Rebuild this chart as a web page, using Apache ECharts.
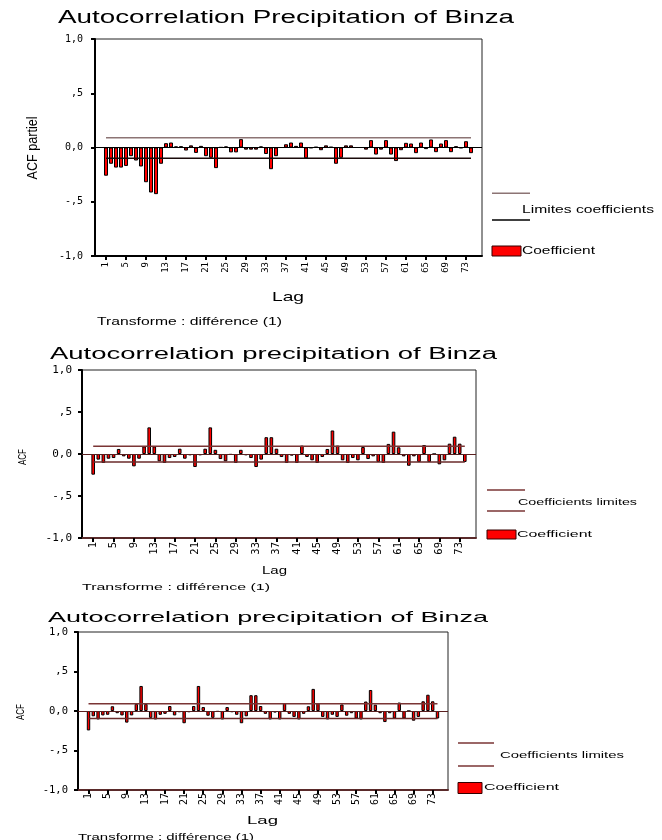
<!DOCTYPE html>
<html><head><meta charset="utf-8">
<script src="https://cdn.jsdelivr.net/npm/echarts@6/dist/echarts.min.js"></script>
<style>html,body{margin:0;padding:0;background:#fff}#c{width:662px;height:840px}</style>
</head><body><div id="c"></div>
<script>
// ---------- data ----------
const lags = [1,2,3,4,5,6,7,8,9,10,11,12,13,14,15,16,17,18,19,20,21,22,23,24,25,26,27,28,29,30,31,32,33,34,35,36,37,38,39,40,41,42,43,44,45,46,47,48,49,50,51,52,53,54,55,56,57,58,59,60,61,62,63,64,65,66,67,68,69,70,71,72,73,74];
const lagTickLabels = [1,5,9,13,17,21,25,29,33,37,41,45,49,53,57,61,65,69,73];
const yTickValues = [-1,-0.5,0,0.5,1];
const yTickLabels = ['-1,0','-,5','0,0',',5','1,0'];

const pacfValues = [-0.26,-0.15,-0.185,-0.185,-0.17,-0.08,-0.12,-0.175,-0.32,-0.415,-0.43,-0.15,
  0.04,0.046,0.01,0.012,-0.028,0.02,-0.05,0.015,-0.08,-0.095,-0.19,0.002,0.01,-0.045,-0.045,0.077,
  -0.02,-0.02,-0.02,0.01,-0.06,-0.2,-0.08,0.0,0.03,0.046,0.015,0.046,-0.1,-0.005,0.005,-0.025,0.02,
  0.005,-0.15,-0.095,0.02,0.02,0.0,0.0,-0.02,0.068,-0.065,-0.02,0.068,-0.065,-0.125,-0.025,0.043,
  0.037,-0.052,0.046,-0.015,0.074,-0.043,0.037,0.068,-0.043,0.012,-0.006,0.058,-0.052];
const acfValues = [-0.246,-0.067,-0.107,-0.056,-0.048,0.06,-0.028,-0.056,-0.147,-0.056,0.09,0.317,
  0.09,-0.087,-0.107,-0.048,-0.036,0.063,-0.056,-0.016,-0.155,-0.016,0.063,0.317,0.05,-0.06,-0.087,
  -0.01,-0.107,0.05,-0.016,-0.048,-0.155,-0.067,0.2,0.2,0.063,-0.036,-0.107,-0.02,-0.107,0.1,-0.036,
  -0.075,-0.107,-0.036,0.06,0.28,0.1,-0.075,-0.107,-0.048,-0.075,0.083,-0.06,-0.028,-0.095,-0.107,
  0.12,0.266,0.08,-0.028,-0.14,-0.028,-0.095,0.107,-0.095,0.0,-0.123,-0.075,0.123,0.206,0.123,-0.095];
const pacfLimits = [0.09, -0.1];
const acfLimits = [0.093, -0.095];

const titles = ['Autocorrelation Precipitation of Binza','Autocorrelation precipitation of Binza','Autocorrelation precipitation of Binza'];
const yNames = ['ACF partiel','ACF','ACF'];
const xName = 'Lag';
const footnote = 'Transforme : différence (1)';
const legendLimit = ['Limites coefficients','Coefficients limites','Coefficients limites'];
const legendCoef = 'Coefficient';

// ---------- layout ----------
const FONT = '"Liberation Sans", Arial, sans-serif';
const MONO = '"DejaVu Sans Mono", monospace';
const panels = [
  {vals: pacfValues, lim: pacfLimits, grid:{left:95, top:39, width:387, height:217},
   upCol:'#8c7474', loCol:'#1a0a0a', zeroCol:'#000', axCol:'#000', barW:4, yFs:10, yMargin:12, xFs:9, xMargin:6},
  {vals: acfValues, lim: acfLimits, grid:{left:82, top:370, width:394, height:168},
   upCol:'#7a3434', loCol:'#6a2a2a', zeroCol:'#5a2020', axCol:'#5a2a2a', barW:3.6, yFs:11, yMargin:10, xFs:10.5, xMargin:4},
  {vals: acfValues, lim: acfLimits, grid:{left:78, top:632, width:370, height:158},
   upCol:'#7a3434', loCol:'#6a2a2a', zeroCol:'#5a2020', axCol:'#5a2a2a', barW:3.4, yFs:10.5, yMargin:10, xFs:10, xMargin:3}
];

const mctx = document.createElement('canvas').getContext('2d');
function fitText(text, x, y, size, targetW, opts) {
  opts = opts || {};
  const font = (opts.weight || 'normal') + ' ' + size + 'px ' + FONT;
  mctx.font = font;
  const w = mctx.measureText(text).width;
  return {
    type:'text', x:x, y:y, scaleX: targetW / w, rotation: opts.rotation || 0, z: 100,
    style:{text:text, font:font, fill:'#000', textAlign: opts.align || 'left', align: opts.align || 'left',
      textVerticalAlign:'middle', verticalAlign:'middle'}
  };
}

const grids = [], xAxes = [], yAxes = [], series = [], graphics = [];
panels.forEach((p, i) => {
  grids.push(Object.assign({show:true, borderColor:'#222', borderWidth:1, backgroundColor:'transparent'}, p.grid));
  xAxes.push({
    type:'value', gridIndex:i, min:-1.2, max:76.2,
    axisLine:{show:true, onZero:false, lineStyle:{color:p.axCol, width:2}},
    axisTick:{show:true, customValues: lagTickLabels, length:4, lineStyle:{color:'#000', width:2}},
    axisLabel:{show:true, customValues: lagTickLabels, rotate:90, fontFamily:MONO, fontSize:p.xFs, color:'#000', margin:p.xMargin},
    splitLine:{show:false}
  });
  yAxes.push({
    type:'value', gridIndex:i, min:-1, max:1, interval:0.5,
    axisLine:{show:true, onZero:false, lineStyle:{color:'#000', width:2}},
    axisTick:{show:true, length:4, lineStyle:{color:'#000', width:2}},
    axisLabel:{show:true, fontFamily:MONO, fontSize:p.yFs, color:'#000', margin:p.yMargin,
      formatter: v => { const k = yTickValues.findIndex(t => Math.abs(t - v) < 1e-9); return k >= 0 ? yTickLabels[k] : ''; }},
    splitLine:{show:false}
  });
  series.push({
    type:'bar', xAxisIndex:i, yAxisIndex:i, barWidth:p.barW,
    data: lags.map((l, k) => [l, p.vals[k]]),
    itemStyle:{color:'#ff0000', borderColor:'#000', borderWidth:1},
    markLine:{silent:true, symbol:['none','none'], label:{show:false},
      lineStyle:{color:p.zeroCol, width:1, type:'solid'}, data:[{yAxis:0}]},
    z:2
  });
  [[p.lim[0], p.upCol], [p.lim[1], p.loCol]].forEach(([v, col]) => {
    series.push({
      type:'line', xAxisIndex:i, yAxisIndex:i, showSymbol:false, symbol:'none',
      data:[[lags[0], v], [lags[lags.length - 1], v]],
      lineStyle:{color:col, width:1.5}, z:3
    });
  });
});

// titles
graphics.push(fitText(titles[0], 58, 18.5, 18, 456));
graphics.push(fitText(titles[1], 50, 354.5, 16, 447));
graphics.push(fitText(titles[2], 48, 618, 15, 440));
// y names
graphics.push(fitText(yNames[0], 32.5, 148, 15, 63, {align:'center', rotation:Math.PI/2}));
graphics.push(fitText(yNames[1], 23.5, 457, 10, 16, {align:'center', rotation:Math.PI/2}));
graphics.push(fitText(yNames[2], 21.5, 712, 10, 16, {align:'center', rotation:Math.PI/2}));
// x names & footnotes
graphics.push(fitText(xName, 272, 297.5, 13, 32));
graphics.push(fitText(footnote, 97, 322, 10, 185));
graphics.push(fitText(xName, 262, 571, 11, 25));
graphics.push(fitText(footnote, 82, 588, 9, 188));
graphics.push(fitText(xName, 247, 821, 11, 31));
graphics.push(fitText(footnote, 78, 837.5, 9, 176));

// legends
function legend(x, yLine1, yText, yLine2, yRect, lineLen, rectW, rectH, col1, col2, txt1, tx1, tw1, tx2, tw2, fs) {
  graphics.push({type:'line', shape:{x1:x, y1:yLine1, x2:x + lineLen, y2:yLine1}, style:{stroke:col1, lineWidth:1.5}});
  graphics.push({type:'line', shape:{x1:x, y1:yLine2, x2:x + lineLen, y2:yLine2}, style:{stroke:col2, lineWidth:1.5}});
  graphics.push(fitText(txt1, tx1, yText, fs, tw1));
  graphics.push({type:'rect', shape:{x:x, y:yRect - rectH / 2, width:rectW, height:rectH}, style:{fill:'#ff0000', stroke:'#300', lineWidth:1}});
  graphics.push(fitText(legendCoef, tx2, yRect, fs, tw2));
}
legend(492, 193.3, 210, 220, 251, 38, 29, 10, '#8c7474', '#000', legendLimit[0], 522, 132, 522, 73, 10);
legend(487, 490, 503, 511, 534.5, 38, 29, 9, '#7a3434', '#7a3434', legendLimit[1], 518, 119, 517, 75, 9);
legend(458, 743, 756, 766, 788, 36, 24, 11, '#7a3434', '#7a3434', legendLimit[2], 500, 124, 484, 75, 9);

const chart = echarts.init(document.getElementById('c'), null, {renderer:'canvas'});
chart.setOption({
  animation:false, backgroundColor:'#fff',
  grid:grids, xAxis:xAxes, yAxis:yAxes, series:series, graphic:graphics
});
</script>
</body></html>
